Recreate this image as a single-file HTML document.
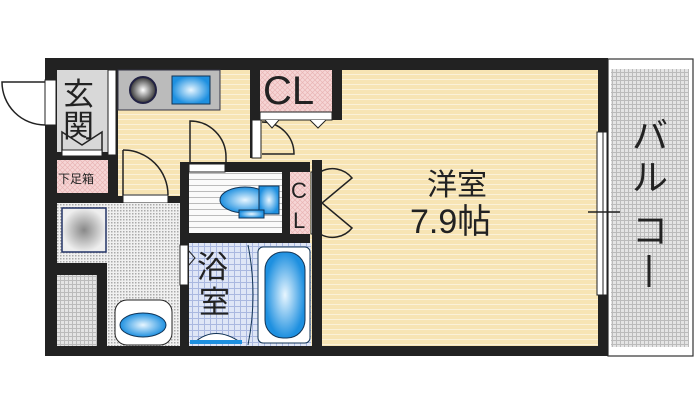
<!DOCTYPE html>
<html><head><meta charset="utf-8"><style>
html,body{margin:0;padding:0;background:#fff;width:700px;height:415px;overflow:hidden}
svg{display:block}
text{font-family:"Liberation Sans","Noto Sans CJK JP",sans-serif;fill:#222}
</style></head><body>
<svg width="700" height="415" viewBox="0 0 700 415">
<defs>
<pattern id="fl" width="6" height="5" patternUnits="userSpaceOnUse"><rect width="6" height="5" fill="#f7e4b4"/><rect y="4" width="6" height="1" fill="#fbf1d8"/></pattern>
<pattern id="dot" width="3" height="3" patternUnits="userSpaceOnUse"><rect width="3" height="3" fill="#f0f0f0"/><rect width="1.5" height="1.5" fill="#aaa"/></pattern>
<pattern id="grid" width="4" height="4" patternUnits="userSpaceOnUse"><rect width="4" height="4" fill="#e4e4e4"/><rect width="1" height="4" fill="#bbb"/><rect width="4" height="1" fill="#bbb"/></pattern>
<pattern id="pk" width="5" height="5" patternUnits="userSpaceOnUse"><rect width="5" height="5" fill="#f6d6d6"/><path d="M0 0L5 5M5 0L0 5" stroke="#e9b5b5" stroke-width=".7"/></pattern>
<pattern id="bt" width="6" height="6" patternUnits="userSpaceOnUse"><rect width="6" height="6" fill="#dfe6f6"/><rect width="1" height="6" fill="#aab8e0"/><rect width="6" height="1" fill="#aab8e0"/></pattern>
<pattern id="ts" width="4" height="6" patternUnits="userSpaceOnUse"><rect width="4" height="6" fill="#fafafa"/><rect y="5" width="4" height="1" fill="#bbb"/></pattern>
<radialGradient id="bl"><stop offset="0" stop-color="#e8f6ff"/><stop offset="1" stop-color="#1e90e0"/></radialGradient>
<radialGradient id="gr"><stop offset="0" stop-color="#fff"/><stop offset="1" stop-color="#333"/></radialGradient>
<radialGradient id="wm"><stop offset="0" stop-color="#888"/><stop offset="1" stop-color="#eee"/></radialGradient>
</defs>
<!-- balcony -->
<rect x="608" y="59" width="85" height="297" fill="#fff" stroke="#333" stroke-width="1.2"/>
<rect x="611" y="69" width="78" height="278" fill="url(#grid)"/>
<text x="632" y="148" font-size="36">バ</text>
<text x="632" y="190" font-size="36">ル</text>
<text x="632" y="243" font-size="36">コ</text>
<line x1="649" y1="255" x2="649" y2="287" stroke="#222" stroke-width="3"/>
<!-- outer walls -->
<rect x="45" y="58" width="563" height="298" fill="#222"/>
<!-- room floors -->
<rect x="321" y="70" width="277" height="276" fill="url(#fl)"/>
<rect x="118" y="70" width="132" height="126" fill="url(#fl)"/>
<rect x="250" y="112" width="72" height="50" fill="url(#fl)"/>
<rect x="310" y="160" width="15" height="186" fill="url(#fl)"/>
<rect x="57" y="70" width="51" height="82" fill="#d8d8d8"/>
<rect x="57" y="160" width="51" height="33" fill="url(#pk)"/>
<text x="58" y="183" font-size="12">下足箱</text>
<text x="63" y="105" font-size="31">玄</text>
<text x="63" y="137" font-size="31">関</text>
<path d="M62 152L62 132L82 145L102 132L102 152" fill="none" stroke="#222" stroke-width="1.5"/>
<rect x="62" y="150" width="40" height="6" fill="#fff" stroke="#222"/>
<!-- kitchen -->
<rect x="118" y="70" width="102" height="40" fill="#bbb" stroke="#334" stroke-width="1"/>
<circle cx="143" cy="90" r="13" fill="url(#gr)" stroke="#224" stroke-width="2"/>
<rect x="172" y="76" width="38" height="28" fill="url(#bl)" stroke="#135" stroke-width="1"/>
<rect x="108" y="70" width="8" height="85" fill="#fff" stroke="#222"/>
<!-- CL top -->
<rect x="260" y="70" width="72" height="42" fill="url(#pk)"/>
<text x="263" y="104" font-size="40">CL</text>
<rect x="260" y="112" width="72" height="8" fill="#fff" stroke="#222"/>
<rect x="332" y="58" width="10" height="62" fill="#222"/>
<rect x="250" y="58" width="10" height="100" fill="#222"/>
<rect x="252" y="120" width="9" height="38" fill="#fff" stroke="#222"/>
<path d="M262 122A32 32 0 0 1 294 154L262 154" fill="none" stroke="#222" stroke-width="1.5"/>
<path d="M265 120L272 128L279 120M310 120L318 128L326 120" fill="#fff" stroke="#222"/>
<!-- doors in corridor -->
<path d="M190 121A36 36 0 0 1 226 157L226 170L190 170Z" fill="none" stroke="#222" stroke-width="1.5"/>
<path d="M123 150A45 45 0 0 1 168 195" fill="none" stroke="#222" stroke-width="1.5"/>
<line x1="123" y1="150" x2="123" y2="200" stroke="#222" stroke-width="1.5"/>
<rect x="123" y="195" width="45" height="8" fill="#fff" stroke="#222"/>
<!-- toilet -->
<rect x="180" y="162" width="110" height="80" fill="#222"/>
<rect x="189" y="172" width="93" height="61" fill="url(#ts)"/>
<rect x="189" y="164" width="36" height="8" fill="#fff" stroke="#222"/>
<ellipse cx="245" cy="200" rx="25" ry="13" fill="url(#bl)" stroke="#135"/>
<rect x="259" y="186" width="20" height="28" fill="url(#bl)" stroke="#135"/>
<rect x="239" y="210" width="25" height="8" fill="url(#bl)" stroke="#135"/>
<rect x="290" y="172" width="20" height="62" fill="url(#pk)"/>
<text x="291" y="198" font-size="22">C</text>
<text x="293" y="228" font-size="22">L</text>
<rect x="311" y="172" width="9" height="62" fill="#fff" stroke="#222"/>
<path d="M320 172A25 25 0 0 1 352 178L322 203L352 228A25 25 0 0 1 320 234" fill="none" stroke="#222" stroke-width="1.5"/>
<!-- washroom -->
<rect x="57" y="203" width="123" height="143" fill="url(#dot)"/>
<rect x="62" y="208" width="44" height="44" fill="url(#wm)" stroke="#236" stroke-width="1.5"/>
<rect x="45" y="263" width="62" height="12" fill="#222"/>
<rect x="97" y="263" width="10" height="90" fill="#222"/>
<rect x="57" y="275" width="40" height="71" fill="url(#grid)"/>
<rect x="115" y="300" width="57" height="45" rx="12" fill="#fff" stroke="#222"/>
<ellipse cx="143" cy="325" rx="23" ry="12" fill="url(#bl)" stroke="#135"/>
<!-- bath -->
<rect x="180" y="240" width="9" height="110" fill="#222"/>
<rect x="189" y="243" width="122" height="103" fill="url(#bt)"/>
<rect x="180" y="245" width="8" height="40" fill="#fff" stroke="#222"/>
<path d="M188 250L195 258L188 266" fill="none" stroke="#222"/>
<rect x="258" y="247" width="52" height="96" rx="5" fill="#fff" stroke="#135"/>
<rect x="265" y="252" width="40" height="86" rx="18" fill="url(#bl)" stroke="#135"/>
<path d="M248 245Q258 295 248 345" fill="none" stroke="#135"/>
<path d="M195 342Q215 325 240 342Z" fill="#fff" stroke="#135"/>
<rect x="190" y="340" width="52" height="4" fill="#1e90e0"/>
<text x="197" y="278" font-size="31">浴</text>
<text x="199" y="313" font-size="31">室</text>
<rect x="312" y="160" width="10" height="190" fill="#222"/>
<!-- room text -->
<text x="427" y="195" font-size="30">洋室</text>
<text x="410" y="233" font-size="34">7.9帖</text>
<!-- balcony window -->
<rect x="597" y="132" width="10" height="163" fill="#fff" stroke="#222"/>
<line x1="603" y1="132" x2="603" y2="295" stroke="#222"/>
<line x1="588" y1="212" x2="620" y2="212" stroke="#222" stroke-width="1.5"/>
<!-- entry door -->
<rect x="45" y="80" width="11" height="45" fill="#fff" stroke="#222"/>
<path d="M45 82L2 82A43 43 0 0 0 45 125" fill="none" stroke="#222" stroke-width="1.5"/>
</svg>
</body></html>
